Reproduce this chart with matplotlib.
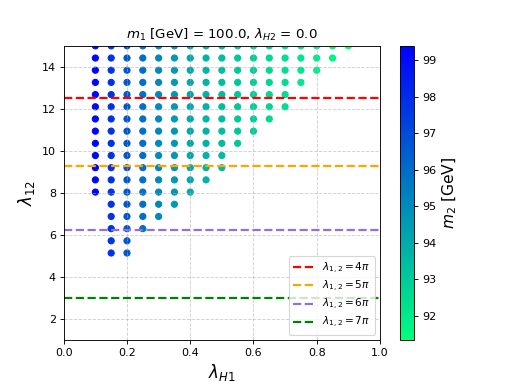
import numpy as np
import matplotlib
matplotlib.use("Agg")
import matplotlib.pyplot as plt

# ------------------------------------------
# data (lambda_H1 columns, lambda_12 rows)
# ------------------------------------------
lam_h1 = [0.10, 0.15, 0.20, 0.25, 0.30, 0.35, 0.40, 0.45, 0.50,
          0.55, 0.60, 0.65, 0.70, 0.75, 0.80, 0.85, 0.90]
# m2 [GeV] for each lambda_H1 column
m2_col = [99.2, 97.8, 96.7, 95.85, 95.1, 94.55, 94.15, 93.75, 93.45,
          93.1, 92.85, 92.6, 92.4, 92.15, 91.9, 91.65, 91.4]

lam_12 = [15.00, 14.42, 13.84, 13.26, 12.68, 12.10, 11.52, 10.94, 10.36,
          9.78, 9.20, 8.62, 8.04, 7.46, 6.88, 6.30, 5.72, 5.14]
row_xmin = [0.10, 0.10, 0.10, 0.10, 0.10, 0.10, 0.10, 0.10, 0.10,
            0.10, 0.10, 0.10, 0.10, 0.15, 0.15, 0.15, 0.15, 0.15]
row_xmax = [0.90, 0.85, 0.80, 0.75, 0.70, 0.70, 0.65, 0.60, 0.55,
            0.50, 0.50, 0.45, 0.40, 0.35, 0.30, 0.25, 0.20, 0.20]

# unitarity bounds
bound_vals = [12.54, 9.30, 6.22, 3.00]
bound_labels = [r'$\lambda_{1,2} = 4\pi$', r'$\lambda_{1,2} = 5\pi$',
                r'$\lambda_{1,2} = 6\pi$', r'$\lambda_{1,2} = 7\pi$']
bound_colors = ['red', 'orange', 'mediumpurple', 'green']

# build the points
xs, ys, cs = [], [], []
for y, lo, hi in zip(lam_12, row_xmin, row_xmax):
    for x, m in zip(lam_h1, m2_col):
        if lo - 1e-6 <= x <= hi + 1e-6:
            xs.append(x)
            ys.append(y)
            cs.append(m)

fig = plt.figure(figsize=(6.375, 4.775), dpi=80)
ax = plt.gca()
sc = ax.scatter(xs, ys, c=cs, cmap='winter_r', s=30, vmin=91.34, vmax=99.39)

for val, lab, col in zip(bound_vals, bound_labels, bound_colors):
    ax.axhline(val, color=col, ls='--', lw=2, label=lab)

ax.set_xlim(0, 1)
ax.set_ylim(1, 15)
ax.grid(True, ls='--', alpha=0.6)
ax.set_xlabel(r'$\lambda_{H1}$', fontsize=15)
ax.set_ylabel(r'$\lambda_{12}$', fontsize=15)
ax.set_title(r'$m_1$ [GeV] = 100.0, $\lambda_{H2}$ = 0.0')
ax.legend(loc='lower right', fontsize=9.5, labelspacing=0.3)

cbar = plt.colorbar(sc)
cbar.set_label(r'$m_2$ [GeV]', fontsize=14)

plt.savefig('out.png', dpi=80)
